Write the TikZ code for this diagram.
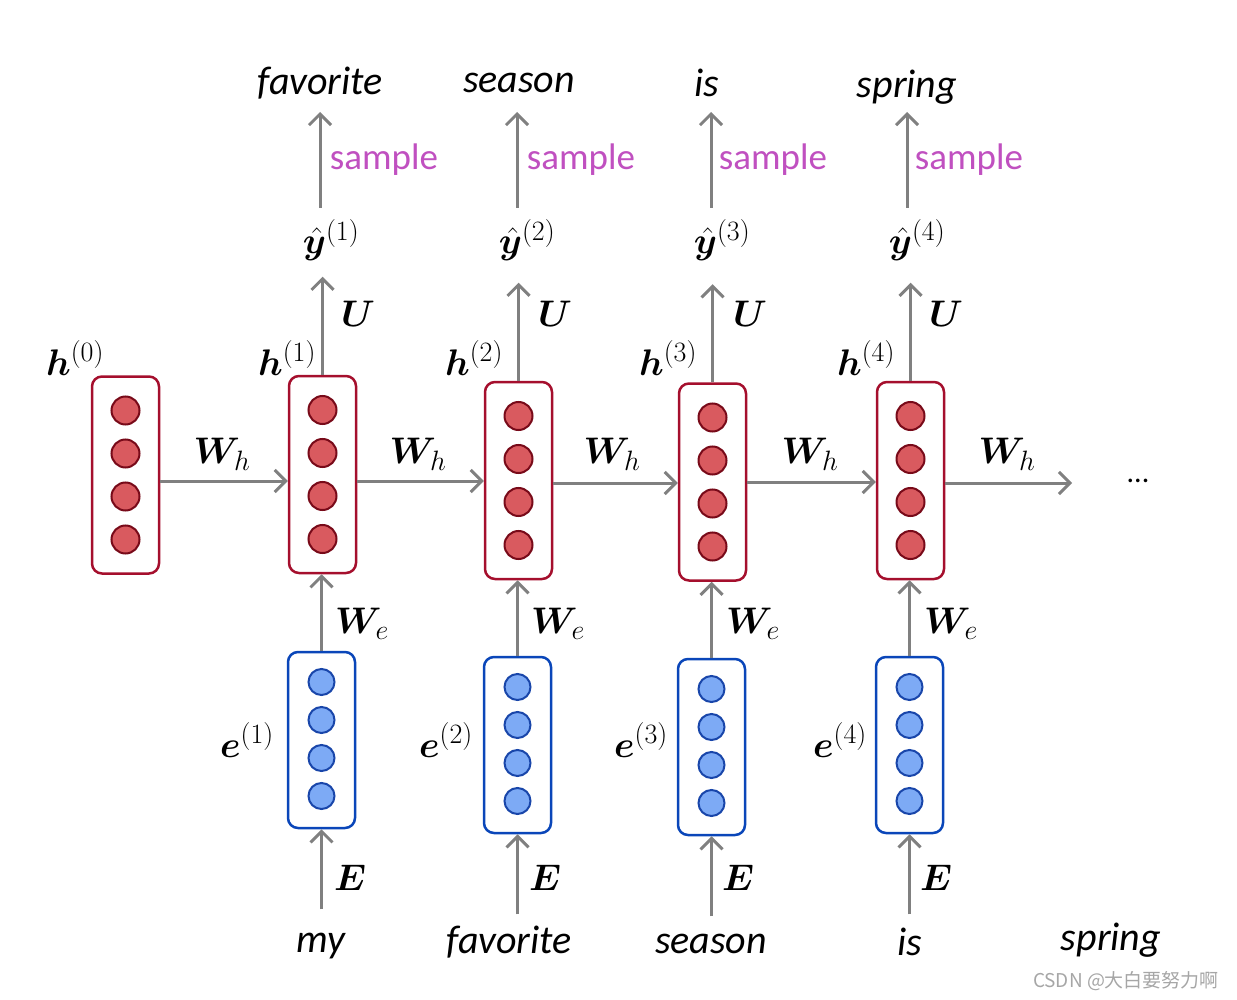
\RequirePackage{fix-cm}
\documentclass[tikz,border=0pt]{standalone}
\usepackage{bm}
\usepackage{fontspec}
\setmainfont{Carlito}
\newfontfamily\cjkfont{Noto Sans CJK SC}
\usetikzlibrary{arrows.meta,calc}
\DeclareMathSizes{37}{37}{28}{20}
\definecolor{hred}{RGB}{165,15,45}
\definecolor{hfill}{RGB}{217,90,95}
\definecolor{hdotb}{RGB}{120,10,25}
\definecolor{eblue}{RGB}{10,70,185}
\definecolor{efill}{RGB}{125,170,245}
\definecolor{edotb}{RGB}{25,70,170}
\definecolor{agray}{RGB}{128,128,128}
\definecolor{sampcol}{RGB}{192,80,192}
\tikzset{
  hbox/.style={draw=hred, line width=2.5pt, rounded corners=10pt, minimum width=67pt, minimum height=197pt, inner sep=0pt},
  ebox/.style={draw=eblue, line width=2.5pt, rounded corners=10pt, minimum width=67pt, minimum height=176pt, inner sep=0pt},
  hdot/.style={circle, draw=hdotb, fill=hfill, line width=2pt, minimum size=28pt, inner sep=0pt},
  edot/.style={circle, draw=edotb, fill=efill, line width=2pt, minimum size=26pt, inner sep=0pt},
  conn/.style={draw=agray, line width=3pt, -{Straight Barb[length=11pt,width=22pt,line width=3pt]}},
  mlbl/.style={font=\fontsize{37}{42}\selectfont, inner sep=0pt},
  word/.style={font=\fontsize{40}{46}\selectfont\itshape, inner sep=0pt},
  samp/.style={font=\fontsize{37}{42}\selectfont, text=sampcol, inner sep=0pt},
}
\begin{document}
\begin{tikzpicture}[x=1pt,y=-1pt]
\useasboundingbox (0,0) rectangle (1237,1000);
% hidden state boxes
\node[hbox] (h0) at (125.5,475) {};
\foreach \i/\hx/\hy in {1/322.5/474.5, 2/518.5/480.5, 3/712.5/482, 4/910.5/480.5}{
  \node[hbox] (h\i) at (\hx,\hy) {};
}
\foreach \n in {0,1,2,3,4}{
  \foreach \k/\o in {a/-64.5, b/-21.5, c/21.5, d/64.5}{
    \node[hdot] (h\n\k) at ($(h\n.center)+(0,\o)$) {};
  }
}
% embedding boxes
\foreach \i/\ex/\ey in {1/321.5/740, 2/517.5/745, 3/711.5/747, 4/909.5/745}{
  \node[ebox] (e\i) at (\ex,\ey) {};
  \foreach \k/\o in {a/-58, b/-20, c/18, d/56}{
    \node[edot] (e\i\k) at (\ex,\ey+\o) {};
  }
}
% labels
\node[mlbl] (lh0) at (75,358) {$\bm{h}^{(0)}$};
\foreach \i/\x in {1/287, 2/474, 3/668, 4/866}{
  \node[mlbl] (lh\i) at (\x,358) {$\bm{h}^{(\i)}$};
}
\foreach \i/\x in {1/222, 2/418, 3/612, 4/810, 5/1007}{
  \node[mlbl] (wh\i) at (\x,454) {$\bm{W}_{h}$};
}
\foreach \i/\x in {1/358, 2/555, 3/750, 4/946}{
  \node[mlbl] (u\i) at (\x,314) {$\bm{U}$};
}
\foreach \i/\x in {1/331, 2/527, 3/722, 4/917}{
  \node[mlbl] (yh\i) at (\x,240) {$\hat{\bm{y}}^{(\i)}$};
}
\foreach \i/\x in {1/384, 2/581, 3/773, 4/969}{
  \node[samp] (s\i) at (\x,160) {sample};
}
\node[word] (t1) at (320,83) {favorite};
\node[word] (t2) at (519,83) {season};
\node[word] (t3) at (707,83) {is};
\node[word] (t4) at (907,87) {spring};
\foreach \i/\x in {1/362, 2/558, 3/753, 4/951}{
  \node[mlbl] (we\i) at (\x,624) {$\bm{W}_{e}$};
}
\foreach \i/\x in {1/247, 2/446, 3/641, 4/840}{
  \node[mlbl] (le\i) at (\x,740) {$\bm{e}^{(\i)}$};
}
\foreach \i/\x in {1/350, 2/545, 3/738, 4/936}{
  \node[mlbl] (E\i) at (\x,878) {$\bm{E}$};
}
\node[word] (b1) at (321,946) {my};
\node[word] (b2) at (509,942) {favorite};
\node[word] (b3) at (711,944) {season};
\node[word] (b4) at (910,942) {is};
\node[word] (b5) at (1111,940) {spring};
\node[font=\fontsize{30}{36}\selectfont, inner sep=0pt] (dots) at (1138,481) {...};
\node[font=\cjkfont\fontsize{19}{22}\selectfont, text=black!35, inner sep=0pt] (wm) at (1126,981) {CSDN @大白要努力啊};
% horizontal recurrences
\draw[conn] (h0.east |- 0,481) -- (h1.west |- 0,481);
\draw[conn] (h1.east |- 0,481) -- (h2.west |- 0,481);
\draw[conn] (h2.east |- 0,483) -- (h3.west |- 0,483);
\draw[conn] (h3.east |- 0,482) -- (h4.west |- 0,482);
\coordinate (hend) at (1072,483);
\draw[conn] (h4.east |- hend) -- (hend);
% vertical connectors
\foreach \i/\sx in {1/320, 2/517, 3/711, 4/907}{
  \coordinate (ut\i) at ($(h\i.north)+(0,-98)$);
  \draw[conn] (h\i.north) -- (ut\i);
  \coordinate (sb\i) at (\sx,208);
  \coordinate (st\i) at (\sx,112);
  \draw[conn] (sb\i) -- (st\i);
  \draw[conn] (e\i.north) -- (e\i.north |- h\i.south);
  \coordinate (eb\i) at ($(e\i.south)+(0,80)$);
  \draw[conn] (eb\i) -- (e\i.south);
}
\end{tikzpicture}
\end{document}
